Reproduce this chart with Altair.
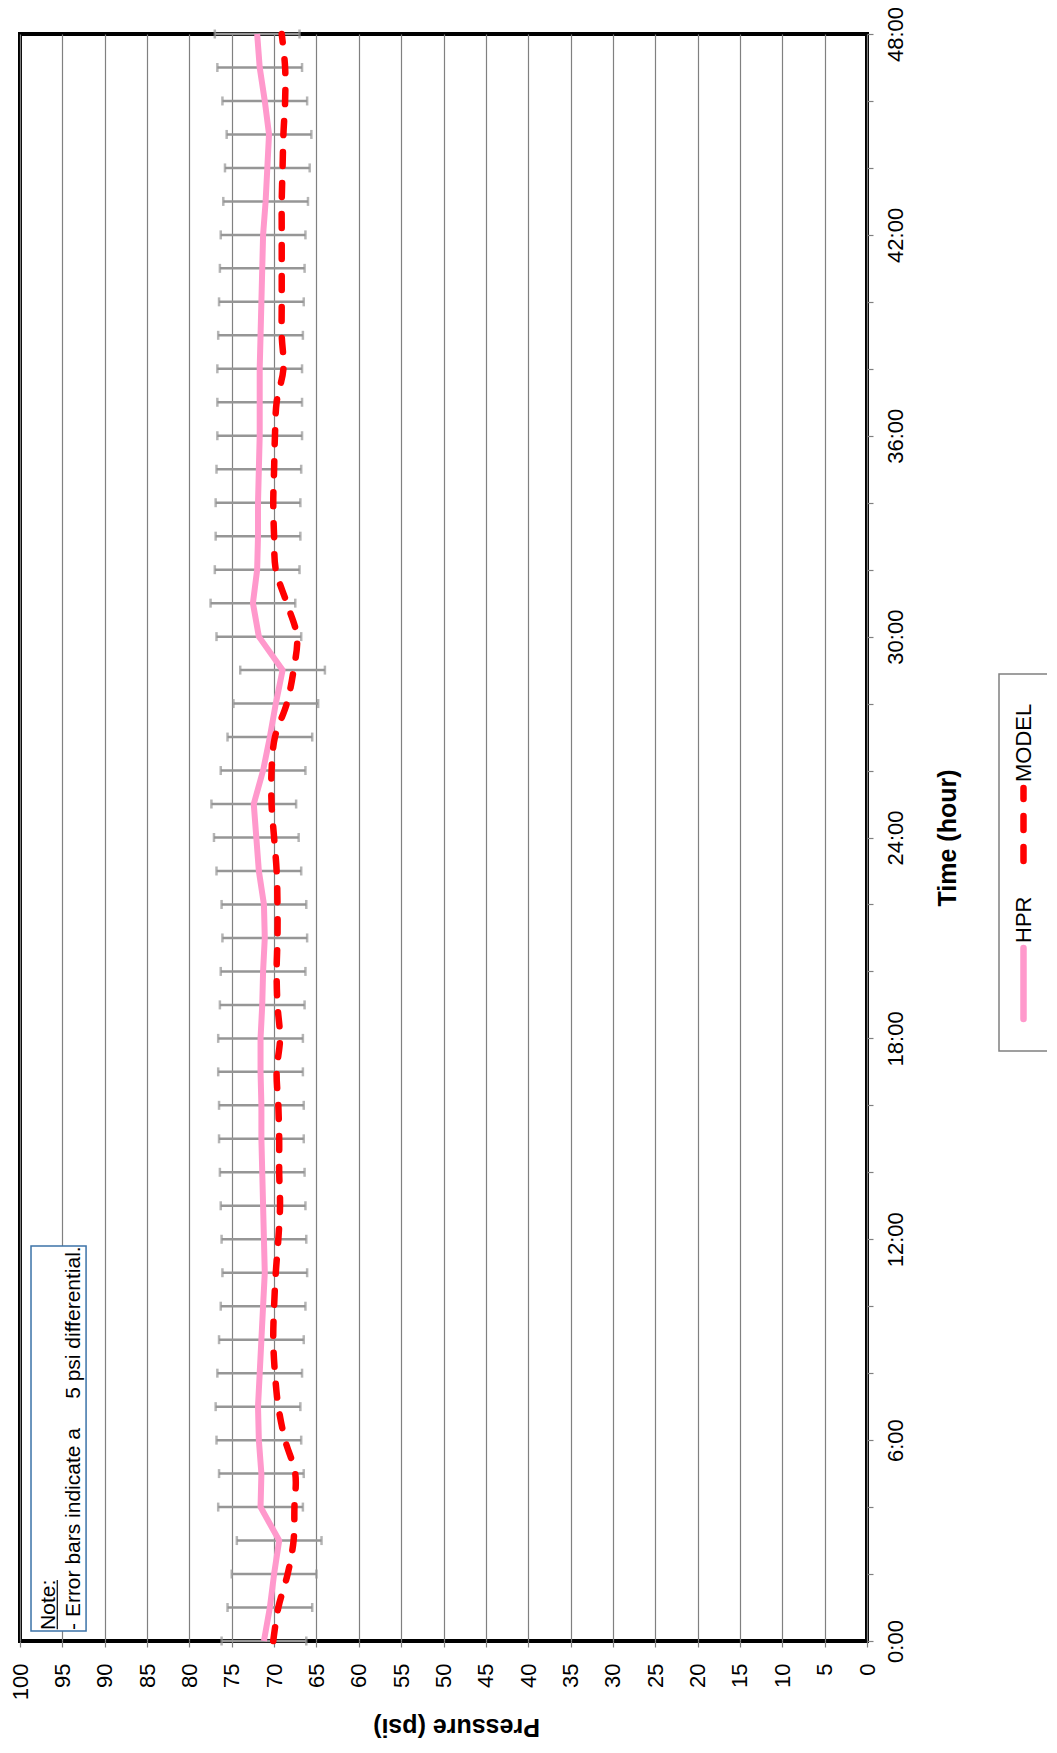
import altair as alt
import pandas as pd

# ---------------- data ----------------
HOURS = list(range(49))
HPR = [71.2, 70.5, 70.0, 69.4, 71.6, 71.5, 71.8, 71.9, 71.7, 71.5,
       71.3, 71.1, 71.2, 71.3, 71.4, 71.5, 71.5, 71.6, 71.6, 71.4,
       71.3, 71.1, 71.2, 71.8, 72.1, 72.4, 71.3, 70.5, 69.8, 69.0,
       71.8, 72.5, 72.0, 71.9, 71.9, 71.8, 71.7, 71.7, 71.7, 71.6,
       71.5, 71.4, 71.3, 71.0, 70.8, 70.6, 71.1, 71.7, 72.0]
MODEL = [70.1, 69.5, 68.4, 67.7, 67.6, 67.5, 68.7, 69.5, 69.9, 70.1,
         70.0, 69.8, 69.5, 69.3, 69.4, 69.4, 69.5, 69.7, 69.3, 69.6,
         69.7, 69.6, 69.6, 69.7, 70.0, 70.3, 70.3, 69.9, 68.5, 67.7,
         67.3, 68.5, 69.8, 70.0, 70.1, 70.0, 69.9, 69.7, 68.9, 69.1,
         69.1, 69.1, 69.1, 69.1, 69.0, 68.9, 68.7, 68.7, 69.1]
ERR = 5  # psi differential shown by the error bars
SERIES = ["HPR", "MODEL"]
PRESSURE_TICKS = list(range(0, 101, 5))
TIME_TICKS = list(range(0, 49, 2))
NOTE_LINES = ["Note:", "- Error bars indicate a\u00a0\u00a0\u00a0\u00a0\u00a05 psi differential."]

# ---------------- layout / style ----------------
W, H = 847, 1607
FONT = "Liberation Sans"
PINK = "#FF99CC"
RED = "#FF0000"
GRAY = "#969696"
GRID = "#808080"
DASH = [14, 17]

# note box position (in pressure / hour units)
NOTE_BOX = dict(p0=98.7, p1=92.2, t0=0.3, t1=11.8, tp=97.9, tt=0.33)
NOTE_UL = dict(p=95.6, t0=0.35, t1=1.82)   # underline of "Note:"
# legend layout (legend units: x across box, y upward from box bottom)
LEG_XR = [W + 132, W + 181]
LEG_YR = [1017, 640]
LEG_W, LEG_H = 49, 377
LEG_SYM = {"HPR": (32, 103), "MODEL": (190, 263)}
LEG_LAB = {"HPR": 108, "MODEL": 269}

df = pd.DataFrame({"hour": HOURS, "HPR": HPR, "MODEL": MODEL})
df["lo"] = df["HPR"] - ERR
df["hi"] = df["HPR"] + ERR

xscale = alt.Scale(domain=[0, 100], reverse=True, nice=False, zero=False)
yscale = alt.Scale(domain=[0, 48], nice=False, zero=False)

x_axis = alt.Axis(
    orient="bottom", values=PRESSURE_TICKS, format="d",
    grid=True, gridColor=GRID, gridWidth=1.2, domain=False,
    ticks=True, tickSize=6, tickColor=GRID, tickWidth=1.2,
    labelAngle=270, labelAlign="right", labelBaseline="middle",
    labelFontSize=22, labelFont=FONT, labelColor="black", labelPadding=16,
    labelFlush=False, labelOverlap=False,
    title="Pressure (psi)", titleFont=FONT, titleFontSize=25, titleFontWeight="bold",
    titleColor="black", titleAngle=180, titleAlign="center", titleBaseline="middle",
    titleX=436, titleY=85, zindex=0)

y_axis = alt.Axis(
    orient="right", values=TIME_TICKS, grid=False, domain=False,
    ticks=True, tickSize=6, tickColor=GRID, tickWidth=1.2,
    labelExpr="datum.value % 6 == 0 ? datum.value + ':00' : ''",
    labelAngle=270, labelAlign="center", labelBaseline="top",
    labelFontSize=22, labelFont=FONT, labelColor="black", labelPadding=12,
    labelFlush=False, labelOverlap=False,
    title="Time (hour)", titleFont=FONT, titleFontSize=25, titleFontWeight="bold",
    titleColor="black", titleAngle=270, titleAlign="center", titleBaseline="middle",
    titleX=80, zindex=0)


def X(field):
    return alt.X(field, type="quantitative", scale=xscale, axis=x_axis)


def Y(field):
    return alt.Y(field, type="quantitative", scale=yscale, axis=y_axis)


def XD(v):
    return alt.XDatum(v, type="quantitative", scale=xscale, axis=x_axis)


def YD(v):
    return alt.YDatum(v, type="quantitative", scale=yscale, axis=y_axis)


base = alt.Chart(df)

err = base.mark_rule(color=GRAY, strokeWidth=2.5).encode(
    x=X("lo"), x2="hi", y=Y("hour"))
cap_lo = base.mark_tick(orient="vertical", color=GRAY, size=9, thickness=2.5).encode(
    x=X("lo"), y=Y("hour"))
cap_hi = base.mark_tick(orient="vertical", color=GRAY, size=9, thickness=2.5).encode(
    x=X("hi"), y=Y("hour"))

hpr_line = base.mark_line(color=PINK, strokeWidth=6, strokeJoin="round").encode(
    x=X("HPR"), y=Y("hour"), order="hour:Q")
model_line = base.mark_line(color=RED, strokeWidth=6.5, strokeDash=DASH,
                            strokeCap="round", interpolate="catmull-rom").encode(
    x=X("MODEL"), y=Y("hour"), order="hour:Q")

one = alt.Chart(pd.DataFrame({"k": [0]}))
note_box = one.mark_rect(fill="white", stroke="#3C73A8", strokeWidth=1.5).encode(
    x=XD(NOTE_BOX["p0"]), x2=alt.X2Datum(NOTE_BOX["p1"]),
    y=YD(NOTE_BOX["t0"]), y2=alt.Y2Datum(NOTE_BOX["t1"]))
note_text = one.mark_text(angle=270, align="left", baseline="top", fontSize=21,
                          font=FONT, lineHeight=25, color="black", text=NOTE_LINES).encode(
    x=XD(NOTE_BOX["tp"]), y=YD(NOTE_BOX["tt"]))
note_ul = one.mark_rule(color="black", strokeWidth=1.2).encode(
    x=XD(NOTE_UL["p"]), y=YD(NOTE_UL["t0"]), y2=alt.Y2Datum(NOTE_UL["t1"]))

main = alt.layer(err, cap_lo, cap_hi, note_box, note_text, note_ul, hpr_line, model_line)

# ---------------- legend (rotated, drawn from the series list) ----------------
leg_df = pd.DataFrame({
    "series": SERIES,
    "s0": [LEG_SYM[s][0] for s in SERIES],
    "s1": [LEG_SYM[s][1] for s in SERIES],
    "lab": [LEG_LAB[s] for s in SERIES],
})
lx = alt.Scale(domain=[0, LEG_W], range=LEG_XR, nice=False, zero=False)
ly = alt.Scale(domain=[0, LEG_H], range=LEG_YR, nice=False, zero=False)

leg_box = one.mark_rect(fill="white", stroke="#808080", strokeWidth=1.5).encode(
    x=alt.XDatum(0, type="quantitative", scale=lx, axis=None),
    x2=alt.X2Datum(LEG_W),
    y=alt.YDatum(0, type="quantitative", scale=ly, axis=None),
    y2=alt.Y2Datum(LEG_H))
leg_sym = alt.Chart(leg_df).mark_rule(strokeWidth=6.5, strokeCap="round").encode(
    x=alt.XDatum(LEG_W / 2, type="quantitative", scale=lx, axis=None),
    y=alt.Y("s0:Q", scale=ly, axis=None), y2="s1:Q",
    color=alt.Color("series:N", scale=alt.Scale(domain=SERIES, range=[PINK, RED]), legend=None),
    strokeDash=alt.StrokeDash("series:N", scale=alt.Scale(domain=SERIES, range=[[1, 0], DASH]),
                              legend=None))
leg_txt = alt.Chart(leg_df).mark_text(angle=270, align="left", baseline="middle",
                                      fontSize=22, font=FONT, color="black").encode(
    x=alt.XDatum(LEG_W / 2, type="quantitative", scale=lx, axis=None),
    y=alt.Y("lab:Q", scale=ly, axis=None),
    text="series:N")

legend = alt.layer(leg_box, leg_sym, leg_txt)

chart = alt.layer(main, legend).resolve_scale(
    x="independent", y="independent", color="independent", strokeDash="independent"
).properties(
    width=W, height=H,
    padding={"left": 12, "top": 26, "right": 180, "bottom": 99},
    autosize=alt.AutoSizeParams(type="none"),
    background="white",
).configure_view(stroke="black", strokeWidth=4)

chart.save("out.html", embed_options={"renderer": "svg", "actions": False})
